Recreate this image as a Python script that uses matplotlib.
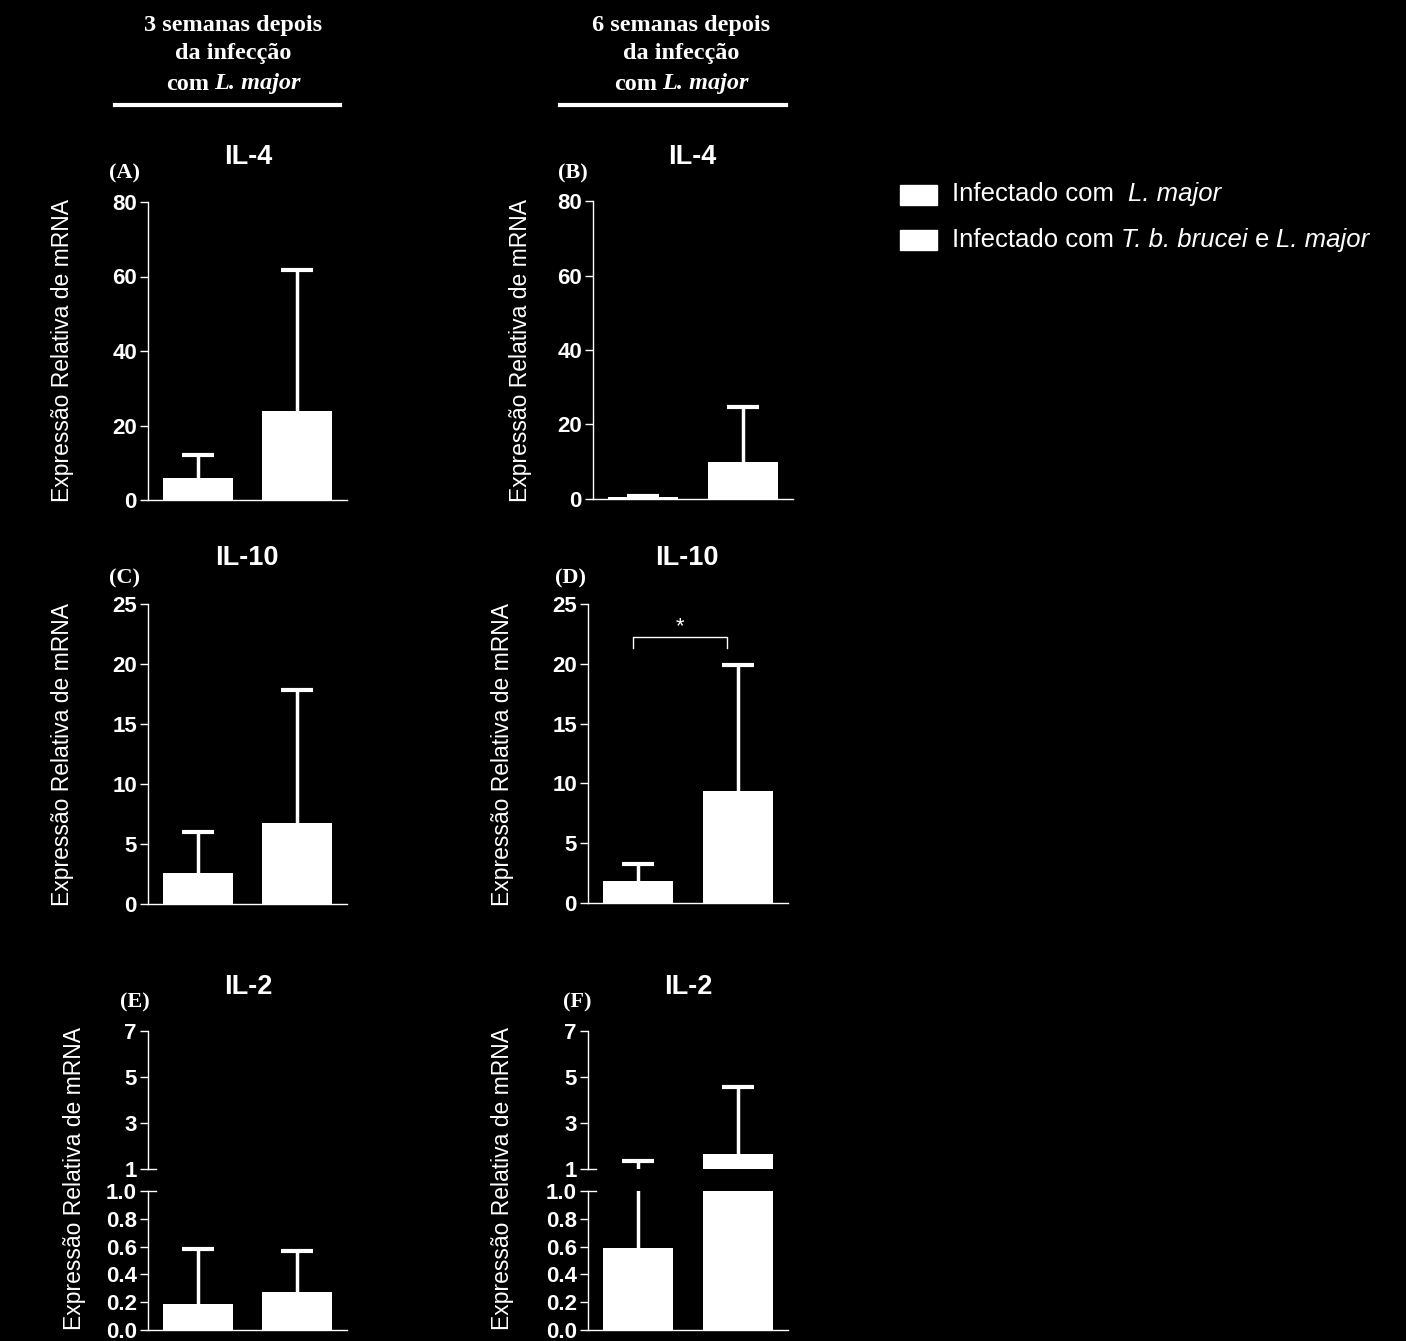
import numpy as np
import matplotlib
matplotlib.use('Agg')
import matplotlib.pyplot as plt
from matplotlib.lines import Line2D
from matplotlib.patches import Rectangle

plt.rcParams['font.family'] = ['Liberation Sans', 'DejaVu Sans']

# mean and upper error (SEM) for the two groups
il4_3w = [6.0, 24.0]
il4_3w_err = [6.0, 37.7]
il4_6w = [0.5, 9.8]
il4_6w_err = [0.3, 15.0]
il10_3w = [2.6, 6.75]
il10_3w_err = [3.4, 11.05]
il10_6w = [1.8, 9.4]
il10_6w_err = [1.45, 10.5]
il2_3w = [0.19, 0.27]
il2_3w_err = [0.39, 0.30]
il2_6w = [0.59, 1.65]
il2_6w_err = [0.76, 2.93]

ylab = 'Expressão Relativa de mRNA'

W, H = 1406, 1341
fig = plt.figure(figsize=(W / 100, H / 100), dpi=100, facecolor='black')


def box(x0, y0, x1, y1):
    return [x0 / W, 1 - y1 / H, (x1 - x0) / W, (y1 - y0) / H]


def style(ax, ylim, ticks, fmt='%d', bottom=True):
    ax.set_facecolor('none')
    ax.set_xlim(0.5, 2.5)
    ax.set_ylim(*ylim)
    for s in ['top', 'right']:
        ax.spines[s].set_visible(False)
    ax.spines['left'].set_color('white')
    ax.spines['left'].set_linewidth(1.0)
    if bottom:
        ax.spines['bottom'].set_color('white')
        ax.spines['bottom'].set_linewidth(1.0)
    else:
        ax.spines['bottom'].set_visible(False)
    ax.set_xticks([])
    ax.set_yticks(ticks)
    ax.set_yticklabels([fmt % t for t in ticks], fontweight='bold')
    ax.tick_params(axis='y', colors='white', length=6, width=1, pad=2, labelsize=16)


def bars(ax, means, errs):
    x = np.arange(1, 3)
    means = np.array(means)
    tops = means + np.array(errs)
    ax.bar(x, means, width=0.7, color='white', edgecolor='none')
    # one-sided (upper) error bars with a cap
    ax.vlines(x, means, tops, color='white', lw=2.5)
    ax.hlines(tops, x - 0.16, x + 0.16, color='white', lw=3)


def ftext(x, y, s, **kw):
    kw.setdefault('color', 'white')
    kw.setdefault('ha', 'center')
    kw.setdefault('va', 'center')
    return fig.text(x / W, 1 - y / H, s, **kw)


# IL-4
axA = fig.add_axes(box(148, 202, 347, 500))
bars(axA, il4_3w, il4_3w_err)
style(axA, (0, 80), [0, 20, 40, 60, 80])
axB = fig.add_axes(box(593, 201, 793, 499))
bars(axB, il4_6w, il4_6w_err)
style(axB, (0, 80), [0, 20, 40, 60, 80])

# IL-10
axC = fig.add_axes(box(148, 604, 347, 904))
bars(axC, il10_3w, il10_3w_err)
style(axC, (0, 25), [0, 5, 10, 15, 20, 25])
axD = fig.add_axes(box(588, 604, 788, 903))
bars(axD, il10_6w, il10_6w_err)
style(axD, (0, 25), [0, 5, 10, 15, 20, 25])
axD.plot([0.95, 0.95, 1.89, 1.89], [21.3, 22.24, 22.24, 21.3], color='white', lw=1)
axD.text(1.42, 22.2, '*', ha='center', va='bottom', fontsize=16, color='white')

# IL-2 (broken axis)
for x0, x1, means, errs in [(148, 347, il2_3w, il2_3w_err), (588, 788, il2_6w, il2_6w_err)]:
    up = fig.add_axes(box(x0, 1031, x1, 1169))
    bars(up, means, errs)
    style(up, (1, 7), [1, 3, 5, 7], bottom=False)
    up.plot([0, 0.04], [0, 0], transform=up.transAxes, color='white', lw=1, clip_on=False)
    lo = fig.add_axes(box(x0, 1191, x1, 1330))
    bars(lo, means, errs)
    style(lo, (0, 1), [0, 0.2, 0.4, 0.6, 0.8, 1.0], fmt='%.1f')
    lo.plot([0, 0.04], [1, 1], transform=lo.transAxes, color='white', lw=1, clip_on=False)

# y labels
for x, y in [(62, 350), (520, 350), (62, 754), (503, 754), (75, 1178), (502, 1178)]:
    ftext(x, y, ylab, rotation=90, fontsize=16.5)

# panel titles and letters
for x, y, s in [(248, 157, 'IL-4'), (692, 157, 'IL-4'), (247, 558, 'IL-10'),
                (687, 558, 'IL-10'), (248, 987, 'IL-2'), (688, 987, 'IL-2')]:
    ftext(x, y, s, fontsize=19.5, fontweight='bold')
for x, y, s in [(125, 173, '(A)'), (573, 173, '(B)'), (125, 578, '(C)'),
                (570, 578, '(D)'), (135, 1002, '(E)'), (577, 1002, '(F)')]:
    ftext(x, y, s, fontsize=16, fontweight='bold', family='Liberation Serif')

renderer = fig.canvas.get_renderer()


def row(x, y, parts, size, center=False):
    items = []
    for s, kw, gap in parts:
        t = fig.text(0, 0, s, fontsize=size, color='white', va='center', ha='left', **kw)
        items.append((t, t.get_window_extent(renderer).width, gap))
    total = sum(w + g for _, w, g in items)
    pos = x - total / 2 if center else x
    for t, w, g in items:
        pos += g
        t.set_position((pos / W, 1 - y / H))
        pos += w


serif_b = dict(family='Liberation Serif', fontweight='bold')
serif_bi = dict(family='Liberation Serif', fontweight='bold', style='italic')
for cx, weeks in [(233, '3'), (681, '6')]:
    ftext(cx, 25, weeks + ' semanas depois', fontsize=17.5, **serif_b)
    ftext(cx, 54, 'da infecção', fontsize=17.5, **serif_b)
    row(cx, 84, [('com', serif_b, 0), ('L. major', serif_bi, 5)], 17.5, center=True)

fig.add_artist(Line2D([115 / W, 340 / W], [1 - 105 / H] * 2, color='white', lw=3))
fig.add_artist(Line2D([560 / W, 786 / W], [1 - 105 / H] * 2, color='white', lw=3))

# legend
for y0 in [185, 230]:
    fig.add_artist(Rectangle((900 / W, 1 - (y0 + 20) / H), 37 / W, 20 / H,
                             color='white', transform=fig.transFigure))
ita = dict(style='italic')
row(952, 194, [('Infectado com', {}, 0), ('L. major', ita, 14)], 18.5)
row(952, 240, [('Infectado com', {}, 0), ('T. b. brucei', ita, 7),
               ('e', {}, 7), ('L. major', ita, 7)], 18.5)

fig.savefig('out.png', dpi=100, facecolor='black')
